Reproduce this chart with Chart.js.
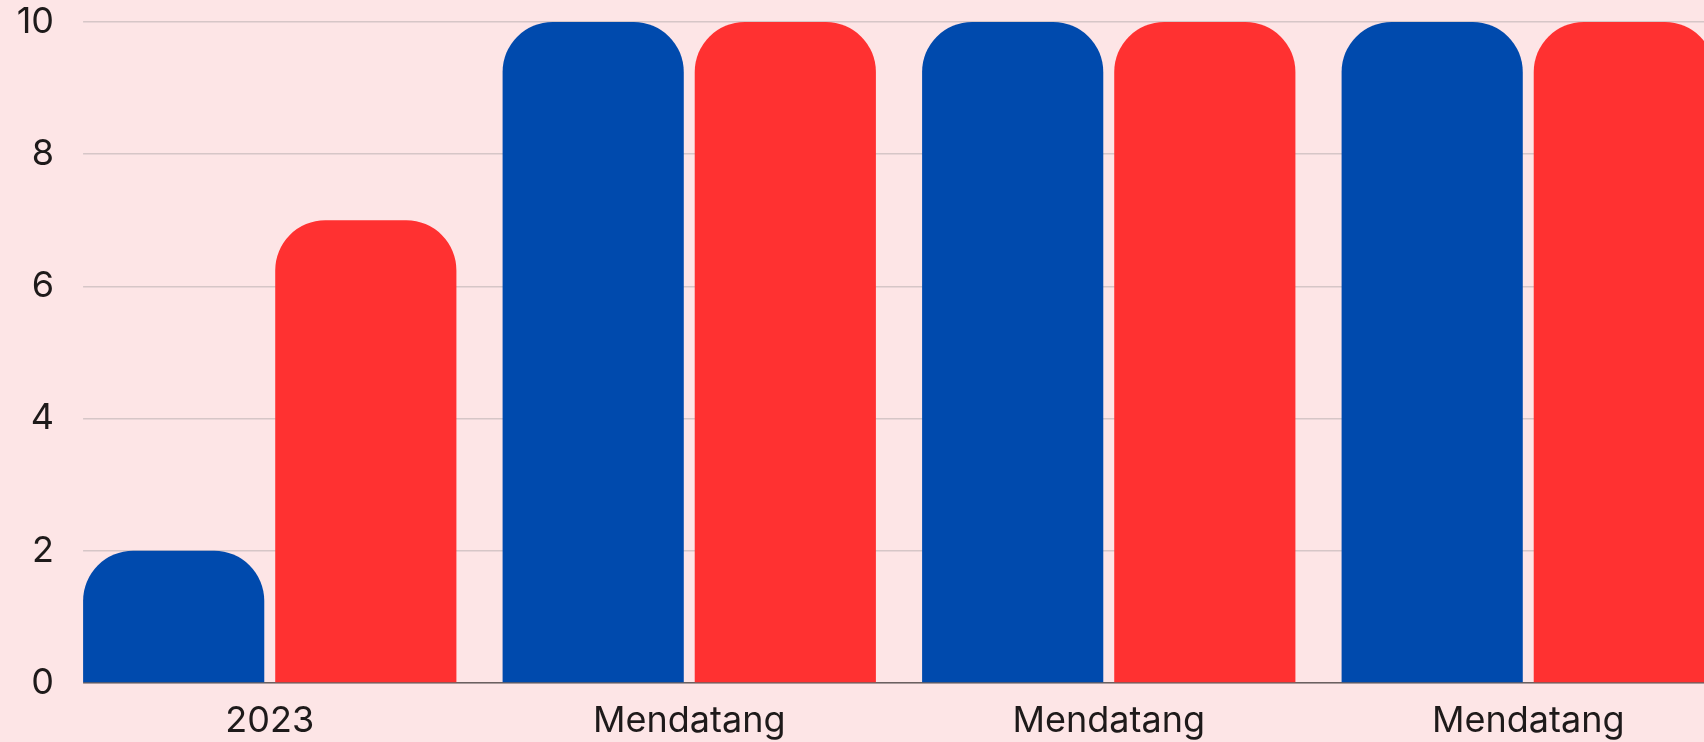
<!DOCTYPE html>
<html>
<head>
<meta charset="utf-8">
<script src="https://cdn.jsdelivr.net/npm/chart.js@4/dist/chart.umd.min.js"></script>
<style>
  html, body { margin: 0; padding: 0; background: #fde5e6; overflow: hidden; width: 1704px; height: 742px; }
  #wrap { position: absolute; left: 0; top: 0; width: 1738px; height: 742px; }
</style>
</head>
<body>
<div id="wrap"><canvas id="c" width="1738" height="742"></canvas></div>
<script>
const categories = ['2023', 'Mendatang', 'Mendatang', 'Mendatang'];
const seriesBlue = [2, 10, 10, 10];
const seriesRed = [7, 10, 10, 10];
const yTicks = [0, 2, 4, 6, 8, 10];

const BG = '#fde5e6';
const FONT = "'Inter', 'DejaVu Sans', sans-serif";

const maskPlugin = {
  id: 'gridStart',
  beforeDatasetsDraw(chart) {
    const meta = chart.getDatasetMeta(0);
    const bar = meta.data[0];
    if (!bar) return;
    const props = bar.getProps(['x', 'width'], true);
    const startX = props.x - props.width / 2;
    const a = chart.chartArea;
    const ctx = chart.ctx;
    ctx.save();
    ctx.fillStyle = BG;
    ctx.fillRect(a.left - 1, a.top - 3, startX - a.left + 1, a.bottom - a.top + 6);
    ctx.restore();
  }
};

new Chart(document.getElementById('c'), {
  type: 'bar',
  data: {
    labels: categories,
    datasets: [
      { data: seriesBlue, backgroundColor: '#004aad', borderRadius: { topLeft: 50, topRight: 50 }, borderSkipped: 'bottom' },
      { data: seriesRed, backgroundColor: '#ff3131', borderRadius: { topLeft: 50, topRight: 50 }, borderSkipped: 'bottom' }
    ]
  },
  options: {
    responsive: false,
    animation: false,
    layout: { padding: { top: 22, right: 0, left: 0, bottom: 0 } },
    datasets: { bar: { categoryPercentage: 0.916, barPercentage: 0.943 } },
    plugins: { legend: { display: false }, tooltip: { enabled: false } },
    scales: {
      x: {
        grid: { display: false, drawTicks: false },
        border: { display: true, color: '#6b6060', width: 1.5 },
        ticks: { color: '#1e1a1a', font: { family: FONT, size: 36 }, padding: 17, maxRotation: 0, autoSkip: false },
        afterFit(scale) { scale.height = 742 - 683; }
      },
      y: {
        min: 0, max: 10,
        afterBuildTicks(scale) { scale.ticks = yTicks.map(v => ({ value: v })); },
        grid: { color: '#d6c6c7', lineWidth: 1.5, drawTicks: false },
        border: { display: false },
        ticks: { color: '#1e1a1a', font: { family: FONT, size: 36, lineHeight: 1 }, padding: 6 },
        afterFit(scale) { scale.width = 60; scale.paddingTop = 0; scale.paddingBottom = 0; }
      }
    }
  },
  plugins: [maskPlugin]
});
</script>
</body>
</html>
